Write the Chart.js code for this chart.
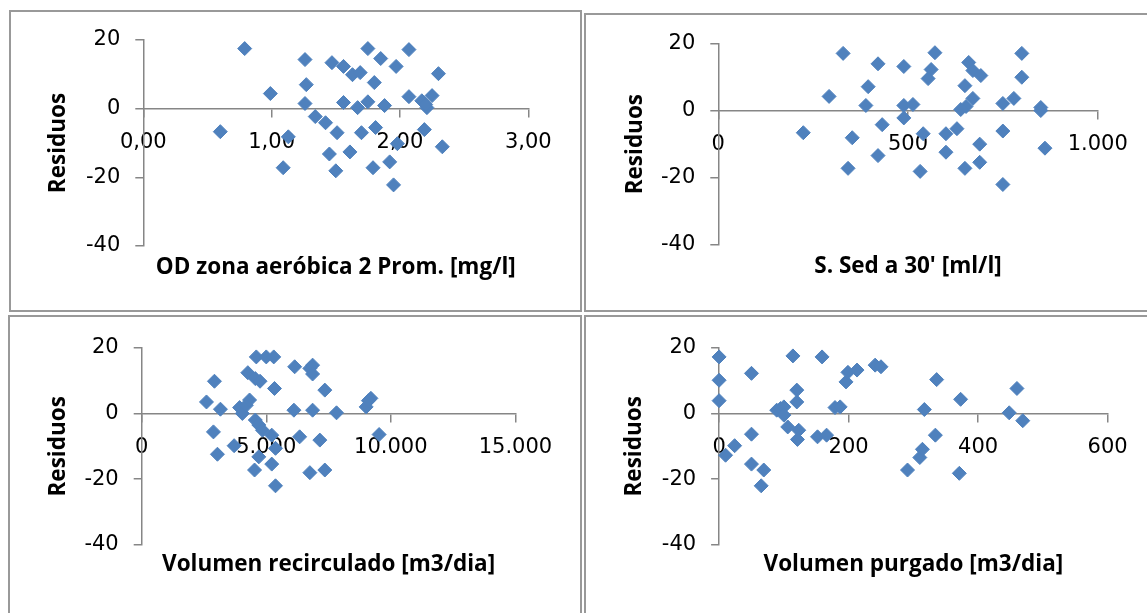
<!DOCTYPE html>
<html>
<head>
<meta charset="utf-8">
<title>Residuos</title>
<script src="https://cdn.jsdelivr.net/npm/chart.js@4.4.1/dist/chart.umd.min.js"></script>
<style>
    html, body { margin:0; padding:0; background:#fff; overflow:hidden; }
    .marco { position:absolute; border:2px solid #999; box-sizing:border-box; }
    canvas { position:absolute; }
</style>
</head>
<body>
<div class="marco" style="left:9px;top:10px;width:573px;height:302px"></div>
<div class="marco" style="left:584px;top:13px;width:570px;height:299px"></div>
<div class="marco" style="left:8px;top:315px;width:574px;height:305px"></div>
<div class="marco" style="left:584px;top:315px;width:570px;height:305px"></div>
<canvas id="graficaOD" width="569" height="298" style="left:11px;top:12px"></canvas>
<canvas id="graficaSed" width="560" height="295" style="left:587px;top:15px"></canvas>
<canvas id="graficaRecirculado" width="569" height="296" style="left:11px;top:317px"></canvas>
<canvas id="graficaPurgado" width="560" height="296" style="left:587px;top:317px"></canvas>
<script>
// OD zona aerobica 2 promedio [mg/l]
var od = [0.60, 0.79, 0.99, 1.13, 1.09, 1.26, 1.27, 1.26, 1.34, 1.42, 1.45, 1.47, 1.56, 1.63,
          1.69, 1.75, 1.85, 1.97, 2.07, 2.30, 1.80, 1.56, 1.67, 1.75, 1.88, 2.07, 2.17, 2.25,
          2.21, 2.20, 1.51, 1.70, 1.81, 2.19, 1.98, 2.33, 1.61, 1.92, 1.50, 1.79, 1.95];
var residuosOD = [-6.7, 17.5, 4.4, -8.2, -17.2, 14.3, 7.0, 1.5, -2.3, -4.1, -13.2, 13.4, 12.3, 9.9,
                  10.5, 17.5, 14.6, 12.3, 17.2, 10.2, 7.6, 1.8, 0.3, 2.0, 0.9, 3.5, 2.3, 3.8,
                  0.3, 1.2, -7.0, -7.0, -5.5, -6.1, -10.2, -11.1, -12.6, -15.5, -18.1, -17.2, -22.2];

// Sedimentables a 30 minutos [ml/l]
var sed = [224, 292, 329, 353, 395, 389, 421, 432, 421, 342, 489, 489, 489, 513,
           571, 561, 553, 660, 671, 692, 650, 671, 653, 639, 800, 800, 779, 750,
           850, 850, 540, 600, 629, 750, 689, 861, 600, 532, 650, 689, 750];
var residuosSed = [-6.6, 4.2, 17.0, -8.1, 7.1, 1.5, 13.9, -4.2, -13.4, -17.2, 13.1, 1.5, -2.2, 1.8,
                   17.2, 12.2, 9.5, 14.3, 11.9, 10.4, 7.4, 3.6, 1.2, 0.3, 17.0, 9.9, 3.6, 2.1,
                   0.9, 0.0, -6.9, -6.9, -5.4, -6.1, -10.0, -11.2, -12.4, -18.1, -17.2, -15.4, -22.0];

// Volumen recirculado [m3/dia]
var recirculado = [2600, 2920, 3160, 2880, 3040, 3710, 3930, 4040, 4200, 4260, 4330, 4600, 4560, 4750,
                   5000, 5300, 5330, 4560, 4700, 4850, 5220, 5370, 4700, 4530, 5220, 5370, 6140,
                   6110, 6340, 6750, 6860, 6860, 6860, 6750, 7150, 7350, 7350, 7820, 9010, 9200, 9530, 9100];
var residuosRec = [3.5, 9.8, 1.3, -5.6, -12.4, -9.8, 1.8, 0.0, 2.5, 12.4, 4.1, 17.2, 10.6, 9.8,
                   17.2, 17.2, 7.6, -2.0, -3.5, -5.1, -6.6, -10.6, -13.2, -17.2, -15.4, -22.0, 14.2,
                   1.0, -7.1, 13.7, 14.7, 12.0, 1.0, -18.0, -8.1, 7.1, -17.2, 0.2, 2.0, 4.6, -6.4, 3.9];

// Volumen purgado [m3/dia]
var purgado = [0, 0, 0, 10, 24, 50, 50, 50, 65, 69, 89, 95, 100, 100,
               106, 114, 120, 120, 123, 121, 152, 159, 166, 179, 187, 196, 199, 213,
               241, 250, 291, 310, 314, 317, 334, 336, 371, 373, 448, 460, 469];
var residuosPur = [17.2, 10.1, 3.9, -12.7, -9.8, 12.2, -6.3, -15.4, -22.0, -17.2, 1.0, 1.5, 2.0, -0.5,
                   -4.1, 17.5, 7.1, 3.5, -5.1, -7.9, -7.1, 17.2, -6.6, 1.8, 2.0, 9.6, 12.5, 13.2,
                   14.7, 14.2, -17.2, -13.4, -10.9, 1.2, -6.6, 10.3, -18.2, 4.3, 0.2, 7.6, -2.2];

// ticks del eje de residuos
var residuosMin = -40, residuosMax = 20, residuosPaso = 20;

var AZUL = '#4f81bd';
var GRIS = '#868686';

var decimales = function (v) {
    return v.toFixed(2).replace('.', ',');
};
var miles = function (v) {
    return String(v).replace(/\B(?=(\d{3})+(?!\d))/g, '.');
};

function graficar(id, xs, ys, p) {
    var puntos = xs.map(function (x, i) { return {x: x, y: ys[i]}; });
    var canvas = document.getElementById(id).getContext('2d');
    return new Chart(canvas, {
        type: 'scatter',
        data: {
            datasets: [{
                data: puntos,
                pointStyle: 'rectRot',
                pointRadius: 7,
                pointBackgroundColor: AZUL,
                pointBorderColor: AZUL,
                pointBorderWidth: 1,
                clip: false
            }]
        },
        options: {
            responsive: false,
            animation: false,
            events: [],
            layout: {padding: {left: 20, right: p.padDer, top: p.padSup, bottom: p.padInf}},
            plugins: {
                legend: {display: false},
                tooltip: {enabled: false},
                title: {
                    display: true,
                    text: p.titulo,
                    position: 'bottom',
                    fullSize: false,
                    color: '#000',
                    font: {family: 'Open Sans', weight: 'bold', size: 22.5},
                    padding: {top: p.padTitulo, bottom: 0}
                }
            },
            scales: {
                x: {
                    type: 'linear',
                    position: {y: 0},
                    min: 0,
                    max: p.xMax,
                    ticks: {
                        stepSize: p.xPaso,
                        color: '#000',
                        font: {family: 'DejaVu Sans', size: 21},
                        padding: 13.5,
                        maxRotation: 0,
                        callback: p.formato
                    },
                    grid: {drawOnChartArea: false, drawTicks: true, tickLength: 8, color: GRIS, lineWidth: 1.5},
                    border: {color: GRIS, width: 1.5},
                    afterFit: function (s) { s.height = 0; }
                },
                y: {
                    type: 'linear',
                    min: residuosMin,
                    max: residuosMax,
                    ticks: {
                        stepSize: residuosPaso,
                        color: '#000',
                        font: {family: 'DejaVu Sans', size: 21},
                        padding: 15,
                        callback: function (v) { return String(v); }
                    },
                    grid: {drawOnChartArea: false, drawTicks: true, tickLength: 8, color: GRIS, lineWidth: 1.5},
                    border: {color: GRIS, width: 1.5},
                    title: {
                        display: true,
                        text: 'Residuos',
                        color: '#000',
                        font: {family: 'Open Sans', weight: 'bold', size: 22.5},
                        padding: {top: p.padResiduos, bottom: 0}
                    },
                    afterFit: function (s) { s.width = p.anchoY; }
                }
            }
        }
    });
}

graficar('graficaOD', od, residuosOD, {
    titulo: 'OD zona aeróbica 2 Prom. [mg/l]', xMax: 3, xPaso: 1, formato: decimales,
    anchoY: 112.3, padDer: 51.7, padSup: 28, padInf: 28.5, padTitulo: 8.5, padResiduos: 14
});
graficar('graficaSed', sed, residuosSed, {
    titulo: "S. Sed a 30' [ml/l]", xMax: 1000, xPaso: 500, formato: miles,
    anchoY: 111.3, padDer: 49.3, padSup: 28.3, padInf: 30, padTitulo: 8, padResiduos: 15.5
});
graficar('graficaRecirculado', recirculado, residuosRec, {
    titulo: 'Volumen recirculado [m3/dia]', xMax: 15000, xPaso: 5000, formato: miles,
    anchoY: 110.7, padDer: 64.6, padSup: 30.7, padInf: 34.5, padTitulo: 6.5, padResiduos: 14.5
});
graficar('graficaPurgado', purgado, residuosPur, {
    titulo: 'Volumen purgado [m3/dia]', xMax: 600, xPaso: 200, formato: miles,
    anchoY: 112.1, padDer: 39.4, padSup: 30.7, padInf: 34.5, padTitulo: 6.5, padResiduos: 14.5
});
</script>
</body>
</html>
